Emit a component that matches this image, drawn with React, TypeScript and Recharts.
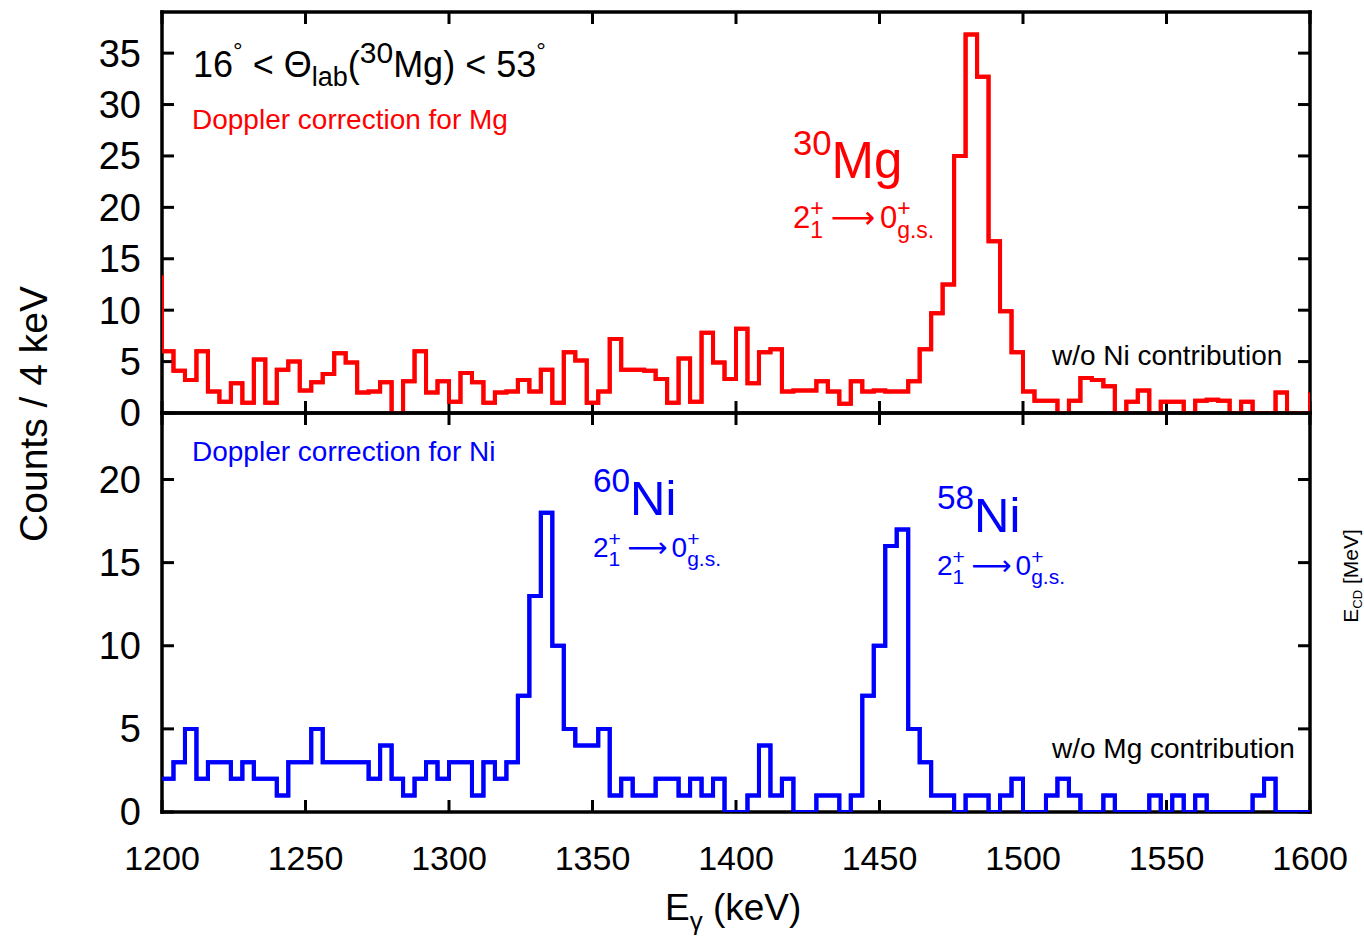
import React from "react";
import { LineChart, Line, XAxis, YAxis } from "recharts";

// 4 keV bins from 1200 to 1600 keV
const E_MIN = 1200;
const E_MAX = 1600;
const BIN_KEV = 4;

const energyTicks = [1200, 1250, 1300, 1350, 1400, 1450, 1500, 1550, 1600];
const mgTicks = [0, 5, 10, 15, 20, 25, 30, 35];
const niTicks = [0, 5, 10, 15, 20];

// Doppler correction for Mg, w/o Ni contribution
const mgCounts = [
    6.0, 4.1, 3.2, 6.0, 2.1, 1.1, 2.9, 1.0, 5.2, 1.0, 4.2, 5.0, 2.2, 3.0, 3.8, 5.8, 4.9, 2.0, 2.1, 3.0, 0, 3.1, 6.0, 2.0, 3.1,
    1.1, 3.9, 3.0, 1.0, 2.0, 2.1, 3.2, 2.1, 4.2, 1.0, 5.9, 5.1, 1.0, 2.1, 7.2, 4.2, 4.2, 4.1, 3.3, 1.0, 5.3, 1.1, 7.8, 4.9, 3.3,
    8.2, 2.9, 5.9, 6.2, 2.1, 2.2, 2.2, 3.1, 2.1, 0.9, 3.1, 2.1, 2.2, 2.1, 2.1, 3.1, 6.2, 9.7, 12.5, 25.0, 36.8, 32.7, 16.7, 9.9, 5.9,
    2.1, 1.2, 1.2, 0, 1.2, 3.4, 3.2, 2.6, 0, 1.1, 2.2, 0, 1.1, 1.1, 0, 1.2, 1.3, 1.2, 0, 1.1, 0, 0, 2.0, 0, 0,
];
// neighbouring bins just outside the window (clipped steps at the edges)
const mgBelowRange = 13.4;
const mgAboveRange = 2.0;

// Doppler correction for Ni, w/o Mg contribution
const niCounts = [
    2, 3, 5, 2, 3, 3, 2, 3, 2, 2, 1, 3, 3, 5, 3, 3, 3, 3, 2, 4, 2, 1, 2, 3, 2,
    3, 3, 1, 3, 2, 3, 7, 13, 18, 10, 5, 4, 4, 5, 1, 2, 1, 1, 2, 2, 1, 2, 1, 2, 0,
    0, 1, 4, 1, 2, 0, 0, 1, 1, 0, 1, 7, 10, 16, 17, 5, 3, 1, 1, 0, 1, 1, 0, 1, 2,
    0, 0, 1, 2, 1, 0, 0, 1, 0, 0, 0, 1, 0, 1, 0, 1, 0, 0, 0, 0, 1, 2, 0, 0, 0,
];

function toSteps(counts: number[], below?: number, above?: number) {
    const pts: { e: number; c: number }[] = [];
    if (below !== undefined) pts.push({ e: E_MIN, c: below });
    counts.forEach((c, i) => pts.push({ e: E_MIN + i * BIN_KEV, c }));
    pts.push({ e: E_MAX, c: counts[counts.length - 1] });
    if (above !== undefined) pts.push({ e: E_MAX, c: above });
    return pts;
}

const mgData = toSteps(mgCounts, mgBelowRange, mgAboveRange);
const niData = toSteps(niCounts);

const FONT = "'Liberation Sans', Arial, Helvetica, sans-serif";
const W = 1364;
const PLOT_LEFT = 162;
const PLOT_RIGHT_GAP = 54;
const axisLine = { stroke: "#000", strokeWidth: 3.5, strokeLinecap: "square" as const };
const tickLine = { stroke: "#000", strokeWidth: 3 };
const xTickFont = { fill: "#000", fontSize: 34, fontFamily: FONT };
const yTickFont = { fill: "#000", fontSize: 38, fontFamily: FONT };
const blank = () => "";

type Pt = { e: number; c: number };

function Panel({
    data, color, yMax, yTicks, top, height, bottomAxis, showX,
}: {
    data: Pt[]; color: string; yMax: number; yTicks: number[];
    top: number; height: number; bottomAxis: number; showX: boolean;
}) {
    return (
        <>
            {/* frame, ticks and labels */}
            <div style={{ position: "absolute", left: 0, top }}>
                <LineChart width={W} height={height} data={data} margin={{ top: 0, right: 0, bottom: 0, left: 0 }}>
                    <XAxis
                        xAxisId="b"
                        orientation="bottom"
                        type="number"
                        dataKey="e"
                        domain={[E_MIN, E_MAX]}
                        ticks={energyTicks}
                        interval={0}
                        allowDataOverflow
                        height={bottomAxis}
                        tickSize={-12}
                        tickMargin={showX ? 46 : 0}
                        tickFormatter={showX ? undefined : blank}
                        axisLine={axisLine}
                        tickLine={tickLine}
                        tick={xTickFont}
                    />
                    <XAxis
                        xAxisId="t"
                        orientation="top"
                        type="number"
                        dataKey="e"
                        domain={[E_MIN, E_MAX]}
                        ticks={energyTicks}
                        interval={0}
                        allowDataOverflow
                        height={12}
                        tickSize={-12}
                        tickFormatter={blank}
                        axisLine={axisLine}
                        tickLine={tickLine}
                    />
                    <YAxis
                        yAxisId="l"
                        orientation="left"
                        type="number"
                        domain={[0, yMax]}
                        ticks={yTicks}
                        interval={0}
                        allowDataOverflow
                        width={PLOT_LEFT}
                        tickSize={-12}
                        tickMargin={33}
                        axisLine={axisLine}
                        tickLine={tickLine}
                        tick={yTickFont}
                    />
                    <YAxis
                        yAxisId="r"
                        orientation="right"
                        type="number"
                        domain={[0, yMax]}
                        ticks={yTicks}
                        interval={0}
                        allowDataOverflow
                        width={PLOT_RIGHT_GAP}
                        tickSize={-12}
                        tickFormatter={blank}
                        axisLine={axisLine}
                        tickLine={tickLine}
                    />
                    <Line
                        xAxisId="b"
                        yAxisId="l"
                        type="stepAfter"
                        dataKey="c"
                        stroke={color}
                        strokeWidth={4}
                        dot={false}
                        activeDot={false}
                        isAnimationActive={false}
                    />
                </LineChart>
            </div>
            {/* histogram drawn again on top of the frame */}
            <div style={{ position: "absolute", left: 0, top }}>
                <LineChart
                    width={W}
                    height={height}
                    data={data}
                    margin={{ top: 12, right: PLOT_RIGHT_GAP, bottom: bottomAxis, left: PLOT_LEFT }}
                >
                    <XAxis type="number" dataKey="e" domain={[E_MIN, E_MAX]} allowDataOverflow hide />
                    <YAxis type="number" domain={[0, yMax]} allowDataOverflow hide />
                    <Line
                        type="stepAfter"
                        dataKey="c"
                        stroke={color}
                        strokeWidth={4}
                        strokeLinejoin="miter"
                        dot={false}
                        activeDot={false}
                        isAnimationActive={false}
                    />
                </LineChart>
            </div>
        </>
    );
}

function Transition({ x, y, color, size }: { x: number; y: number; color: string; size: number }) {
    const s = Math.round(size * 0.75);
    const up = Math.round(size * 0.4);
    const down = Math.round(size * 0.33);
    return (
        <text x={x} y={y} fill={color} fontSize={size} fontFamily={FONT}>
            2
            <tspan dy={-up} fontSize={s}>+</tspan>
            <tspan dx={-s * 0.584} dy={up + down} fontSize={s}>1</tspan>
            <tspan dx={size * 0.25} dy={-down} fontFamily="'DejaVu Sans', sans-serif">⟶</tspan>
            <tspan dx={size * 0.15}>0</tspan>
            <tspan dy={-up} fontSize={s}>+</tspan>
            <tspan dx={-s * 0.584} dy={up + down} fontSize={s}>g.s.</tspan>
        </text>
    );
}

function Nucleus({ x, y, mass, name, color, size }: { x: number; y: number; mass: string; name: string; color: string; size: number }) {
    return (
        <text x={x} y={y} fill={color} fontSize={size} fontFamily={FONT}>
            <tspan fontSize={size * 0.68} dy={-23}>{mass}</tspan>
            <tspan dy={23}>{name}</tspan>
        </text>
    );
}

export default function App() {
    return (
        <div style={{ position: "absolute", left: 0, top: 0, width: W, height: 936, background: "#fff" }}>
            <Panel data={mgData} color="#ff0000" yMax={39} yTicks={mgTicks} top={0} height={440} bottomAxis={27} showX={false} />
            <Panel data={niData} color="#0000ff" yMax={24} yTicks={niTicks} top={401} height={535} bottomAxis={124} showX />

            <svg width={W} height={936} style={{ position: "absolute", left: 0, top: 0, pointerEvents: "none" }}>
                {/* top panel */}
                <text x={193} y={77} fontSize={36} fontFamily={FONT} fill="#000">
                    16
                    <tspan dy={-18} fontSize={24}>°</tspan>
                    <tspan dy={18}> {"<"} Θ</tspan>
                    <tspan dy={9} fontSize={27}>lab</tspan>
                    <tspan dy={-9}>(</tspan>
                    <tspan dy={-14} fontSize={30}>30</tspan>
                    <tspan dy={14}>Mg) {"<"} 53</tspan>
                    <tspan dy={-18} fontSize={24}>°</tspan>
                </text>
                <text x={192} y={129} fontSize={28} fontFamily={FONT} fill="#ff0000">
                    Doppler correction for Mg
                </text>
                <Nucleus x={793} y={178} mass="30" name="Mg" color="#ff0000" size={51} />
                <Transition x={793} y={228} color="#ff0000" size={31} />
                <text x={1052} y={365} fontSize={28} fontFamily={FONT} fill="#000">
                    w/o Ni contribution
                </text>

                {/* bottom panel */}
                <text x={192} y={461} fontSize={28} fontFamily={FONT} fill="#0000ff">
                    Doppler correction for Ni
                </text>
                <Nucleus x={593} y={515} mass="60" name="Ni" color="#0000ff" size={49} />
                <Transition x={593} y={557} color="#0000ff" size={28} />
                <Nucleus x={937} y={532} mass="58" name="Ni" color="#0000ff" size={49} />
                <Transition x={937} y={575} color="#0000ff" size={28} />
                <text x={1052} y={758} fontSize={28} fontFamily={FONT} fill="#000">
                    w/o Mg contribution
                </text>

                {/* axis titles */}
                <text
                    x={0}
                    y={0}
                    transform="translate(47 414) rotate(-90)"
                    textAnchor="middle"
                    fontSize={39}
                    fontFamily={FONT}
                    fill="#000"
                >
                    Counts / 4 keV
                </text>
                <text x={665} y={920} fontSize={37} fontFamily={FONT} fill="#000">
                    E<tspan dy={10} fontSize={26}>γ</tspan>
                    <tspan dy={-10}> (keV)</tspan>
                </text>
                <text
                    x={0}
                    y={0}
                    transform="translate(1358 576) rotate(-90)"
                    textAnchor="middle"
                    fontSize={21}
                    fontFamily={FONT}
                    fill="#000"
                >
                    E<tspan dy={4} fontSize={13}>CD</tspan>
                    <tspan dy={-4}> [MeV]</tspan>
                </text>
            </svg>
        </div>
    );
}
